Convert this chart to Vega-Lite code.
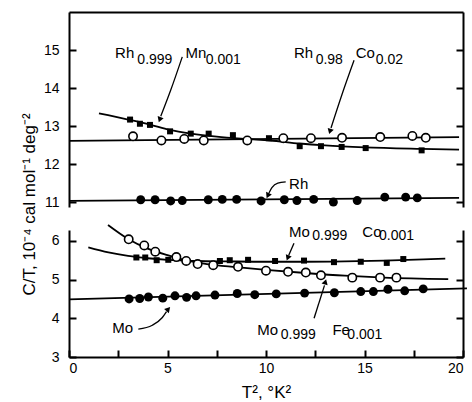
{
  "$schema": "https://vega.github.io/schema/vega-lite/v6.json",
  "padding": {"left": 20, "top": 12, "right": 0, "bottom": 0},
  "background": "white",
  "bounds": "flush",
  "spacing": 23,
  "config": {
    "view": {"stroke": null},
    "axis": {"domainColor": "black", "domainWidth": 2, "tickColor": "black", "tickWidth": 2, "tickSize": -7, "labelColor": "black", "labelFont": "Liberation Sans Narrow, Liberation Sans", "labelFontSize": 14, "grid": false, "titleColor": "black", "titleFont": "Liberation Sans", "titleFontWeight": "normal"},
    "text": {"font": "Liberation Sans", "color": "black"}
  },
  "datasets": {
    "pts": [
      {"panel": "top", "series": "Rh0.999Mn0.001", "kind": "square", "x": 3.10, "y": 13.17},
      {"panel": "top", "series": "Rh0.999Mn0.001", "kind": "square", "x": 3.60, "y": 13.06},
      {"panel": "top", "series": "Rh0.999Mn0.001", "kind": "square", "x": 4.11, "y": 13.03},
      {"panel": "top", "series": "Rh0.999Mn0.001", "kind": "square", "x": 5.13, "y": 12.86},
      {"panel": "top", "series": "Rh0.999Mn0.001", "kind": "square", "x": 6.18, "y": 12.80},
      {"panel": "top", "series": "Rh0.999Mn0.001", "kind": "square", "x": 7.09, "y": 12.80},
      {"panel": "top", "series": "Rh0.999Mn0.001", "kind": "square", "x": 8.32, "y": 12.76},
      {"panel": "top", "series": "Rh0.999Mn0.001", "kind": "square", "x": 10.15, "y": 12.68},
      {"panel": "top", "series": "Rh0.999Mn0.001", "kind": "square", "x": 11.71, "y": 12.47},
      {"panel": "top", "series": "Rh0.999Mn0.001", "kind": "square", "x": 12.79, "y": 12.47},
      {"panel": "top", "series": "Rh0.999Mn0.001", "kind": "square", "x": 13.84, "y": 12.45},
      {"panel": "top", "series": "Rh0.999Mn0.001", "kind": "square", "x": 15.06, "y": 12.42},
      {"panel": "top", "series": "Rh0.999Mn0.001", "kind": "square", "x": 17.90, "y": 12.36},
      {"panel": "top", "series": "Rh0.98Co0.02", "kind": "open", "x": 3.25, "y": 12.73},
      {"panel": "top", "series": "Rh0.98Co0.02", "kind": "open", "x": 4.69, "y": 12.62},
      {"panel": "top", "series": "Rh0.98Co0.02", "kind": "open", "x": 5.85, "y": 12.66},
      {"panel": "top", "series": "Rh0.98Co0.02", "kind": "open", "x": 6.84, "y": 12.62},
      {"panel": "top", "series": "Rh0.98Co0.02", "kind": "open", "x": 9.05, "y": 12.62},
      {"panel": "top", "series": "Rh0.98Co0.02", "kind": "open", "x": 10.88, "y": 12.68},
      {"panel": "top", "series": "Rh0.98Co0.02", "kind": "open", "x": 12.28, "y": 12.68},
      {"panel": "top", "series": "Rh0.98Co0.02", "kind": "open", "x": 13.86, "y": 12.69},
      {"panel": "top", "series": "Rh0.98Co0.02", "kind": "open", "x": 15.80, "y": 12.71},
      {"panel": "top", "series": "Rh0.98Co0.02", "kind": "open", "x": 17.43, "y": 12.74},
      {"panel": "top", "series": "Rh0.98Co0.02", "kind": "open", "x": 18.11, "y": 12.69},
      {"panel": "top", "series": "Rh", "kind": "filled", "x": 3.64, "y": 11.06},
      {"panel": "top", "series": "Rh", "kind": "filled", "x": 4.37, "y": 11.06},
      {"panel": "top", "series": "Rh", "kind": "filled", "x": 5.16, "y": 11.03},
      {"panel": "top", "series": "Rh", "kind": "filled", "x": 5.75, "y": 11.04},
      {"panel": "top", "series": "Rh", "kind": "filled", "x": 7.07, "y": 11.06},
      {"panel": "top", "series": "Rh", "kind": "filled", "x": 7.78, "y": 11.07},
      {"panel": "top", "series": "Rh", "kind": "filled", "x": 8.51, "y": 11.07},
      {"panel": "top", "series": "Rh", "kind": "filled", "x": 9.75, "y": 11.03},
      {"panel": "top", "series": "Rh", "kind": "filled", "x": 10.93, "y": 11.06},
      {"panel": "top", "series": "Rh", "kind": "filled", "x": 11.57, "y": 11.04},
      {"panel": "top", "series": "Rh", "kind": "filled", "x": 12.42, "y": 11.07},
      {"panel": "top", "series": "Rh", "kind": "filled", "x": 13.42, "y": 11.00},
      {"panel": "top", "series": "Rh", "kind": "filled", "x": 14.63, "y": 11.04},
      {"panel": "top", "series": "Rh", "kind": "filled", "x": 16.03, "y": 11.13},
      {"panel": "top", "series": "Rh", "kind": "filled", "x": 17.09, "y": 11.13},
      {"panel": "top", "series": "Rh", "kind": "filled", "x": 17.68, "y": 11.11},
      {"panel": "bottom", "series": "Mo0.999Co0.001", "kind": "square", "x": 3.42, "y": 5.57},
      {"panel": "bottom", "series": "Mo0.999Co0.001", "kind": "square", "x": 3.87, "y": 5.57},
      {"panel": "bottom", "series": "Mo0.999Co0.001", "kind": "square", "x": 4.45, "y": 5.50},
      {"panel": "bottom", "series": "Mo0.999Co0.001", "kind": "square", "x": 5.04, "y": 5.51},
      {"panel": "bottom", "series": "Mo0.999Co0.001", "kind": "square", "x": 7.66, "y": 5.48},
      {"panel": "bottom", "series": "Mo0.999Co0.001", "kind": "square", "x": 8.16, "y": 5.50},
      {"panel": "bottom", "series": "Mo0.999Co0.001", "kind": "square", "x": 9.09, "y": 5.51},
      {"panel": "bottom", "series": "Mo0.999Co0.001", "kind": "square", "x": 10.46, "y": 5.48},
      {"panel": "bottom", "series": "Mo0.999Co0.001", "kind": "square", "x": 11.93, "y": 5.49},
      {"panel": "bottom", "series": "Mo0.999Co0.001", "kind": "square", "x": 13.45, "y": 5.45},
      {"panel": "bottom", "series": "Mo0.999Co0.001", "kind": "square", "x": 14.81, "y": 5.46},
      {"panel": "bottom", "series": "Mo0.999Co0.001", "kind": "square", "x": 16.13, "y": 5.43},
      {"panel": "bottom", "series": "Mo0.999Co0.001", "kind": "square", "x": 16.97, "y": 5.53},
      {"panel": "bottom", "series": "Mo0.999Fe0.001", "kind": "open", "x": 3.03, "y": 6.04},
      {"panel": "bottom", "series": "Mo0.999Fe0.001", "kind": "open", "x": 3.82, "y": 5.88},
      {"panel": "bottom", "series": "Mo0.999Fe0.001", "kind": "open", "x": 4.38, "y": 5.72},
      {"panel": "bottom", "series": "Mo0.999Fe0.001", "kind": "open", "x": 5.45, "y": 5.58},
      {"panel": "bottom", "series": "Mo0.999Fe0.001", "kind": "open", "x": 5.95, "y": 5.48},
      {"panel": "bottom", "series": "Mo0.999Fe0.001", "kind": "open", "x": 6.53, "y": 5.40},
      {"panel": "bottom", "series": "Mo0.999Fe0.001", "kind": "open", "x": 7.32, "y": 5.37},
      {"panel": "bottom", "series": "Mo0.999Fe0.001", "kind": "open", "x": 8.58, "y": 5.33},
      {"panel": "bottom", "series": "Mo0.999Fe0.001", "kind": "open", "x": 10.00, "y": 5.23},
      {"panel": "bottom", "series": "Mo0.999Fe0.001", "kind": "open", "x": 11.12, "y": 5.20},
      {"panel": "bottom", "series": "Mo0.999Fe0.001", "kind": "open", "x": 12.02, "y": 5.18},
      {"panel": "bottom", "series": "Mo0.999Fe0.001", "kind": "open", "x": 12.79, "y": 5.11},
      {"panel": "bottom", "series": "Mo0.999Fe0.001", "kind": "open", "x": 14.38, "y": 5.05},
      {"panel": "bottom", "series": "Mo0.999Fe0.001", "kind": "open", "x": 15.79, "y": 5.05},
      {"panel": "bottom", "series": "Mo0.999Fe0.001", "kind": "open", "x": 16.62, "y": 5.05},
      {"panel": "bottom", "series": "Mo", "kind": "filled", "x": 3.05, "y": 4.50},
      {"panel": "bottom", "series": "Mo", "kind": "filled", "x": 3.59, "y": 4.51},
      {"panel": "bottom", "series": "Mo", "kind": "filled", "x": 4.03, "y": 4.55},
      {"panel": "bottom", "series": "Mo", "kind": "filled", "x": 4.76, "y": 4.52},
      {"panel": "bottom", "series": "Mo", "kind": "filled", "x": 5.38, "y": 4.58},
      {"panel": "bottom", "series": "Mo", "kind": "filled", "x": 5.97, "y": 4.54},
      {"panel": "bottom", "series": "Mo", "kind": "filled", "x": 6.45, "y": 4.58},
      {"panel": "bottom", "series": "Mo", "kind": "filled", "x": 7.41, "y": 4.60},
      {"panel": "bottom", "series": "Mo", "kind": "filled", "x": 8.54, "y": 4.64},
      {"panel": "bottom", "series": "Mo", "kind": "filled", "x": 9.43, "y": 4.61},
      {"panel": "bottom", "series": "Mo", "kind": "filled", "x": 10.52, "y": 4.63},
      {"panel": "bottom", "series": "Mo", "kind": "filled", "x": 11.96, "y": 4.65},
      {"panel": "bottom", "series": "Mo", "kind": "filled", "x": 13.47, "y": 4.66},
      {"panel": "bottom", "series": "Mo", "kind": "filled", "x": 14.81, "y": 4.69},
      {"panel": "bottom", "series": "Mo", "kind": "filled", "x": 15.45, "y": 4.69},
      {"panel": "bottom", "series": "Mo", "kind": "filled", "x": 16.19, "y": 4.75},
      {"panel": "bottom", "series": "Mo", "kind": "filled", "x": 17.04, "y": 4.71},
      {"panel": "bottom", "series": "Mo", "kind": "filled", "x": 17.98, "y": 4.76}
    ],
    "curves": [
      {"panel": "top", "series": "Rh0.999Mn0.001", "x": 1.52, "y": 13.33},
      {"panel": "top", "series": "Rh0.999Mn0.001", "x": 3.0, "y": 13.17},
      {"panel": "top", "series": "Rh0.999Mn0.001", "x": 4.1, "y": 13.04},
      {"panel": "top", "series": "Rh0.999Mn0.001", "x": 5.1, "y": 12.90},
      {"panel": "top", "series": "Rh0.999Mn0.001", "x": 6.2, "y": 12.80},
      {"panel": "top", "series": "Rh0.999Mn0.001", "x": 7.5, "y": 12.72},
      {"panel": "top", "series": "Rh0.999Mn0.001", "x": 9.0, "y": 12.66},
      {"panel": "top", "series": "Rh0.999Mn0.001", "x": 10.2, "y": 12.62},
      {"panel": "top", "series": "Rh0.999Mn0.001", "x": 11.7, "y": 12.54},
      {"panel": "top", "series": "Rh0.999Mn0.001", "x": 13.0, "y": 12.49},
      {"panel": "top", "series": "Rh0.999Mn0.001", "x": 15.0, "y": 12.44},
      {"panel": "top", "series": "Rh0.999Mn0.001", "x": 17.9, "y": 12.40},
      {"panel": "top", "series": "Rh0.999Mn0.001", "x": 19.8, "y": 12.38},
      {"panel": "top", "series": "Rh0.98Co0.02", "x": 0, "y": 12.61},
      {"panel": "top", "series": "Rh0.98Co0.02", "x": 19.8, "y": 12.71},
      {"panel": "top", "series": "Rh", "x": 0, "y": 11.03},
      {"panel": "top", "series": "Rh", "x": 19.8, "y": 11.11},
      {"panel": "bottom", "series": "Mo0.999Co0.001", "x": 0.98, "y": 5.83},
      {"panel": "bottom", "series": "Mo0.999Co0.001", "x": 2.0, "y": 5.70},
      {"panel": "bottom", "series": "Mo0.999Co0.001", "x": 3.0, "y": 5.61},
      {"panel": "bottom", "series": "Mo0.999Co0.001", "x": 4.0, "y": 5.55},
      {"panel": "bottom", "series": "Mo0.999Co0.001", "x": 5.0, "y": 5.51},
      {"panel": "bottom", "series": "Mo0.999Co0.001", "x": 6.5, "y": 5.48},
      {"panel": "bottom", "series": "Mo0.999Co0.001", "x": 8.0, "y": 5.47},
      {"panel": "bottom", "series": "Mo0.999Co0.001", "x": 10.0, "y": 5.46},
      {"panel": "bottom", "series": "Mo0.999Co0.001", "x": 12.0, "y": 5.46},
      {"panel": "bottom", "series": "Mo0.999Co0.001", "x": 14.0, "y": 5.47},
      {"panel": "bottom", "series": "Mo0.999Co0.001", "x": 16.0, "y": 5.49},
      {"panel": "bottom", "series": "Mo0.999Co0.001", "x": 18.0, "y": 5.52},
      {"panel": "bottom", "series": "Mo0.999Co0.001", "x": 19.1, "y": 5.54},
      {"panel": "bottom", "series": "Mo0.999Fe0.001", "x": 1.98, "y": 6.41},
      {"panel": "bottom", "series": "Mo0.999Fe0.001", "x": 3.0, "y": 6.05},
      {"panel": "bottom", "series": "Mo0.999Fe0.001", "x": 4.0, "y": 5.80},
      {"panel": "bottom", "series": "Mo0.999Fe0.001", "x": 5.0, "y": 5.63},
      {"panel": "bottom", "series": "Mo0.999Fe0.001", "x": 6.0, "y": 5.49},
      {"panel": "bottom", "series": "Mo0.999Fe0.001", "x": 7.0, "y": 5.40},
      {"panel": "bottom", "series": "Mo0.999Fe0.001", "x": 8.5, "y": 5.32},
      {"panel": "bottom", "series": "Mo0.999Fe0.001", "x": 10.0, "y": 5.25},
      {"panel": "bottom", "series": "Mo0.999Fe0.001", "x": 12.0, "y": 5.17},
      {"panel": "bottom", "series": "Mo0.999Fe0.001", "x": 14.0, "y": 5.10},
      {"panel": "bottom", "series": "Mo0.999Fe0.001", "x": 16.0, "y": 5.05},
      {"panel": "bottom", "series": "Mo0.999Fe0.001", "x": 19.25, "y": 5.01},
      {"panel": "bottom", "series": "Mo", "x": 0, "y": 4.49},
      {"panel": "bottom", "series": "Mo", "x": 20.2, "y": 4.77}
    ],
    "labels": [
      {"panel": "top", "role": "main", "x": 2.34, "y": 14.92, "text": "Rh"},
      {"panel": "top", "role": "sub", "x": 3.47, "y": 14.73, "text": "0.999"},
      {"panel": "top", "role": "main", "x": 5.92, "y": 14.92, "text": "Mn"},
      {"panel": "top", "role": "sub", "x": 6.94, "y": 14.73, "text": "0.001"},
      {"panel": "top", "role": "main", "x": 11.42, "y": 14.92, "text": "Rh"},
      {"panel": "top", "role": "sub", "x": 12.52, "y": 14.73, "text": "0.98"},
      {"panel": "top", "role": "main", "x": 14.55, "y": 14.92, "text": "Co"},
      {"panel": "top", "role": "sub", "x": 15.57, "y": 14.73, "text": "0.02"},
      {"panel": "top", "role": "main", "x": 11.17, "y": 11.47, "text": "Rh"},
      {"panel": "bottom", "role": "main", "x": 11.17, "y": 6.24, "text": "Mo"},
      {"panel": "bottom", "role": "sub", "x": 12.35, "y": 6.13, "text": "0.999"},
      {"panel": "bottom", "role": "main", "x": 14.89, "y": 6.24, "text": "Co"},
      {"panel": "bottom", "role": "sub", "x": 15.74, "y": 6.13, "text": "0.001"},
      {"panel": "bottom", "role": "main", "x": 2.2, "y": 3.74, "text": "Mo"},
      {"panel": "bottom", "role": "main", "x": 9.56, "y": 3.71, "text": "Mo"},
      {"panel": "bottom", "role": "sub", "x": 10.75, "y": 3.56, "text": "0.999"},
      {"panel": "bottom", "role": "main", "x": 13.37, "y": 3.71, "text": "Fe"},
      {"panel": "bottom", "role": "sub", "x": 14.13, "y": 3.56, "text": "0.001"}
    ],
    "arrows": [
      {"panel": "top", "id": "a1", "step": 1, "x": 5.75, "y": 14.82},
      {"panel": "top", "id": "a1", "step": 2, "x": 5.16, "y": 13.94},
      {"panel": "top", "id": "a1", "step": 3, "x": 4.66, "y": 13.26},
      {"panel": "top", "id": "a2", "step": 1, "x": 14.47, "y": 14.73},
      {"panel": "top", "id": "a2", "step": 2, "x": 13.87, "y": 13.85},
      {"panel": "top", "id": "a2", "step": 3, "x": 13.30, "y": 12.95},
      {"panel": "top", "id": "a3", "step": 1, "x": 11.0, "y": 11.53},
      {"panel": "top", "id": "a3", "step": 2, "x": 10.6, "y": 11.50},
      {"panel": "top", "id": "a3", "step": 3, "x": 10.3, "y": 11.38},
      {"panel": "top", "id": "a3", "step": 4, "x": 10.15, "y": 11.24},
      {"panel": "bottom", "id": "b1", "step": 1, "x": 11.42, "y": 5.94},
      {"panel": "bottom", "id": "b1", "step": 2, "x": 11.15, "y": 5.62},
      {"panel": "bottom", "id": "b2", "step": 1, "x": 3.52, "y": 3.72},
      {"panel": "bottom", "id": "b2", "step": 2, "x": 4.23, "y": 3.82},
      {"panel": "bottom", "id": "b2", "step": 3, "x": 4.74, "y": 4.02},
      {"panel": "bottom", "id": "b2", "step": 4, "x": 4.95, "y": 4.17},
      {"panel": "bottom", "id": "b3", "step": 1, "x": 12.44, "y": 4.00},
      {"panel": "bottom", "id": "b3", "step": 2, "x": 12.97, "y": 4.85}
    ],
    "heads": [
      {"panel": "top", "id": "a1", "x": 4.62, "y": 13.19, "heading": 200},
      {"panel": "top", "id": "a2", "x": 13.26, "y": 12.88, "heading": 197},
      {"panel": "top", "id": "a3", "x": 10.11, "y": 11.19, "heading": 205},
      {"panel": "bottom", "id": "b1", "x": 11.12, "y": 5.58, "heading": 202},
      {"panel": "bottom", "id": "b2", "x": 5.01, "y": 4.22, "heading": 42},
      {"panel": "bottom", "id": "b3", "x": 13.0, "y": 4.92, "heading": 17}
    ]
  },
  "vconcat": [
    {
      "width": 394,
      "height": 195,
      "resolve": {"axis": {"y": "independent"}},
      "layer": [
        {
          "data": {"name": "curves"},
          "transform": [{"filter": "datum.panel === 'top'"}],
          "mark": {"type": "line", "color": "black", "strokeWidth": 1.8, "interpolate": "monotone"},
          "encoding": {
            "x": {"field": "x", "type": "quantitative", "title": null, "scale": {"domain": [0, 20], "nice": false, "zero": false}, "axis": {"orient": "top", "labels": false, "ticks": false, "domain": true, "title": null}},
            "y": {"field": "y", "type": "quantitative", "scale": {"domain": [10.87, 16], "nice": false, "zero": false}, "axis": {"orient": "left", "values": [11, 12, 13, 14, 15], "labelPadding": 17, "title": "C/T, 10⁻⁴ cal mol⁻¹ deg⁻²", "titleFontSize": 17, "titleX": -35, "titleY": 192, "titleAngle": -90, "titleAlign": "center", "titleBaseline": "alphabetic"}},
            "detail": {"field": "series"}
          }
        },
        {
          "data": {"name": "arrows"},
          "transform": [{"filter": "datum.panel === 'top'"}],
          "mark": {"type": "line", "color": "black", "strokeWidth": 1.3, "interpolate": "monotone"},
          "encoding": {
            "x": {"field": "x", "type": "quantitative", "title": null},
            "y": {"field": "y", "type": "quantitative", "axis": {"orient": "right", "values": [11, 12, 13, 14, 15], "labels": false, "title": null}},
            "detail": {"field": "id"},
            "order": {"field": "step"}
          }
        },
        {
          "data": {"name": "heads"},
          "transform": [{"filter": "datum.panel === 'top'"}],
          "mark": {"type": "point", "shape": "triangle", "filled": true, "color": "black", "size": 40, "opacity": 1},
          "encoding": {
            "x": {"field": "x", "type": "quantitative", "title": null},
            "y": {"field": "y", "type": "quantitative", "axis": null},
            "angle": {"field": "heading", "type": "quantitative", "scale": null}
          }
        },
        {
          "data": {"name": "pts"},
          "transform": [{"filter": "datum.panel === 'top' && datum.kind === 'square'"}],
          "mark": {"type": "point", "shape": "square", "filled": true, "color": "black", "size": 36, "opacity": 1},
          "encoding": {
            "x": {"field": "x", "type": "quantitative", "title": null},
            "y": {"field": "y", "type": "quantitative", "axis": null}
          }
        },
        {
          "data": {"name": "pts"},
          "transform": [{"filter": "datum.panel === 'top' && datum.kind === 'filled'"}],
          "mark": {"type": "circle", "color": "black", "size": 80, "opacity": 1},
          "encoding": {
            "x": {"field": "x", "type": "quantitative", "title": null},
            "y": {"field": "y", "type": "quantitative", "axis": null}
          }
        },
        {
          "data": {"name": "pts"},
          "transform": [{"filter": "datum.panel === 'top' && datum.kind === 'open'"}],
          "mark": {"type": "point", "shape": "circle", "fill": "white", "stroke": "black", "strokeWidth": 1.6, "size": 70, "opacity": 1},
          "encoding": {
            "x": {"field": "x", "type": "quantitative", "title": null},
            "y": {"field": "y", "type": "quantitative", "axis": null}
          }
        },
        {
          "data": {"name": "labels"},
          "transform": [{"filter": "datum.panel === 'top' && datum.role === 'main'"}],
          "mark": {"type": "text", "align": "left", "baseline": "middle", "fontSize": 15},
          "encoding": {
            "x": {"field": "x", "type": "quantitative", "title": null},
            "y": {"field": "y", "type": "quantitative", "axis": null},
            "text": {"field": "text"}
          }
        },
        {
          "data": {"name": "labels"},
          "transform": [{"filter": "datum.panel === 'top' && datum.role === 'sub'"}],
          "mark": {"type": "text", "align": "left", "baseline": "middle", "fontSize": 14},
          "encoding": {
            "x": {"field": "x", "type": "quantitative", "title": null},
            "y": {"field": "y", "type": "quantitative", "axis": null},
            "text": {"field": "text"}
          }
        }
      ]
    },
    {
      "width": 394,
      "height": 127,
      "resolve": {"axis": {"y": "independent"}},
      "layer": [
        {
          "data": {"name": "curves"},
          "transform": [{"filter": "datum.panel === 'bottom'"}],
          "mark": {"type": "line", "color": "black", "strokeWidth": 1.8, "interpolate": "monotone"},
          "encoding": {
            "x": {"field": "x", "type": "quantitative", "title": "T², °K²", "scale": {"domain": [0, 20], "nice": false, "zero": false}, "axis": {"orient": "bottom", "values": [0, 2.5, 5, 7.5, 10, 12.5, 15, 17.5, 20], "format": "d", "labelExpr": "datum.value % 5 === 0 ? datum.label : ''", "labelPadding": 11, "titleFontSize": 17, "titleY": 40, "titleBaseline": "alphabetic"}},
            "y": {"field": "y", "type": "quantitative", "scale": {"domain": [3, 6.28], "nice": false, "zero": false}, "axis": {"orient": "left", "values": [3, 4, 5, 6], "labelPadding": 17, "title": null}},
            "detail": {"field": "series"}
          }
        },
        {
          "data": {"name": "arrows"},
          "transform": [{"filter": "datum.panel === 'bottom'"}],
          "mark": {"type": "line", "color": "black", "strokeWidth": 1.3, "interpolate": "monotone"},
          "encoding": {
            "x": {"field": "x", "type": "quantitative", "title": "T², °K²"},
            "y": {"field": "y", "type": "quantitative", "axis": {"orient": "right", "values": [3, 4, 5, 6], "labels": false, "title": null}},
            "detail": {"field": "id"},
            "order": {"field": "step"}
          }
        },
        {
          "data": {"name": "heads"},
          "transform": [{"filter": "datum.panel === 'bottom'"}],
          "mark": {"type": "point", "shape": "triangle", "filled": true, "color": "black", "size": 40, "opacity": 1},
          "encoding": {
            "x": {"field": "x", "type": "quantitative", "title": "T², °K²"},
            "y": {"field": "y", "type": "quantitative", "axis": null},
            "angle": {"field": "heading", "type": "quantitative", "scale": null}
          }
        },
        {
          "data": {"name": "pts"},
          "transform": [{"filter": "datum.panel === 'bottom' && datum.kind === 'square'"}],
          "mark": {"type": "point", "shape": "square", "filled": true, "color": "black", "size": 36, "opacity": 1},
          "encoding": {
            "x": {"field": "x", "type": "quantitative", "title": "T², °K²"},
            "y": {"field": "y", "type": "quantitative", "axis": null}
          }
        },
        {
          "data": {"name": "pts"},
          "transform": [{"filter": "datum.panel === 'bottom' && datum.kind === 'filled'"}],
          "mark": {"type": "circle", "color": "black", "size": 80, "opacity": 1},
          "encoding": {
            "x": {"field": "x", "type": "quantitative", "title": "T², °K²"},
            "y": {"field": "y", "type": "quantitative", "axis": null}
          }
        },
        {
          "data": {"name": "pts"},
          "transform": [{"filter": "datum.panel === 'bottom' && datum.kind === 'open'"}],
          "mark": {"type": "point", "shape": "circle", "fill": "white", "stroke": "black", "strokeWidth": 1.6, "size": 70, "opacity": 1},
          "encoding": {
            "x": {"field": "x", "type": "quantitative", "title": "T², °K²"},
            "y": {"field": "y", "type": "quantitative", "axis": null}
          }
        },
        {
          "data": {"name": "labels"},
          "transform": [{"filter": "datum.panel === 'bottom' && datum.role === 'main'"}],
          "mark": {"type": "text", "align": "left", "baseline": "middle", "fontSize": 15},
          "encoding": {
            "x": {"field": "x", "type": "quantitative", "title": "T², °K²"},
            "y": {"field": "y", "type": "quantitative", "axis": null},
            "text": {"field": "text"}
          }
        },
        {
          "data": {"name": "labels"},
          "transform": [{"filter": "datum.panel === 'bottom' && datum.role === 'sub'"}],
          "mark": {"type": "text", "align": "left", "baseline": "middle", "fontSize": 14},
          "encoding": {
            "x": {"field": "x", "type": "quantitative", "title": "T², °K²"},
            "y": {"field": "y", "type": "quantitative", "axis": null},
            "text": {"field": "text"}
          }
        }
      ]
    }
  ]
}
